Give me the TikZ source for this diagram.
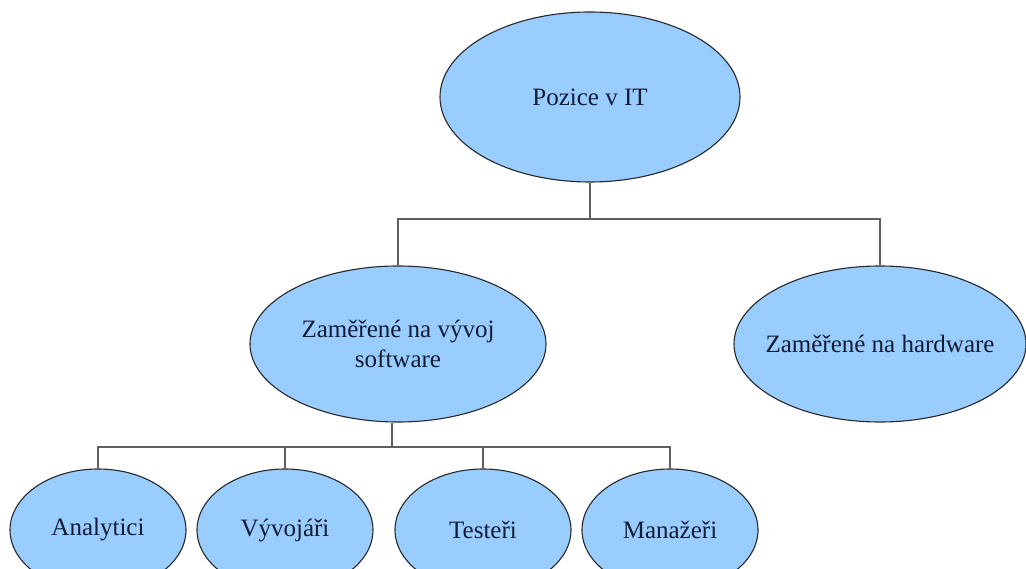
\documentclass[tikz,border=0pt]{standalone}
\usepackage{fontspec}
\setmainfont{Liberation Serif}
\usetikzlibrary{shapes.geometric}
\definecolor{fillblue}{RGB}{153,204,255}
\definecolor{txtcol}{RGB}{18,28,52}
\definecolor{edgecol}{RGB}{40,40,40}
\definecolor{conncol}{RGB}{95,95,95}
\begin{document}
\begin{tikzpicture}[x=1pt,y=-1pt,
  oval/.style={ellipse, draw=edgecol, line width=1.1pt, fill=fillblue, text=txtcol,
    inner sep=0pt, font=\fontsize{25}{30}\selectfont, align=center},
  bigoval/.style={oval, minimum width=296pt, minimum height=156pt},
  smalloval/.style={oval, minimum width=176pt, minimum height=122pt},
  connector/.style={draw=conncol, line width=1.4pt}]
\useasboundingbox (0,0) rectangle (1026,569);
\fill[white] (0,0) rectangle (1026,569);
\clip (0,0) rectangle (1026,569);

\node[oval, minimum width=300pt, minimum height=170pt] (root) at (590,97) {Pozice v IT};
\node[bigoval] (sw) at (398,344) {Zaměřené na vývoj\\software};
\node[bigoval, minimum width=292pt] (hw) at (880,344) {\makebox[0pt][c]{Zaměřené na hardware}};

\node[smalloval] (an) at (98,530) {Analytici};
\node[smalloval] (vy) at (285,530) {Vývojáři};
\node[smalloval] (te) at (483,530) {Testeři};
\node[smalloval] (mg) at (670,530) {Manažeři};

\coordinate (b1) at (590,219);
\coordinate (b2) at (392,447);

\draw[connector] (root.south) -- (b1);
\draw[connector] (sw.north) |- (hw.north |- b1) -- (hw.north);

\draw[connector] (sw.south -| b2) -- (b2);
\draw[connector] (an.north) |- (mg.north |- b2) -- (mg.north);
\draw[connector] (vy.north) -- (vy.north |- b2);
\draw[connector] (te.north) -- (te.north |- b2);
\end{tikzpicture}
\end{document}
